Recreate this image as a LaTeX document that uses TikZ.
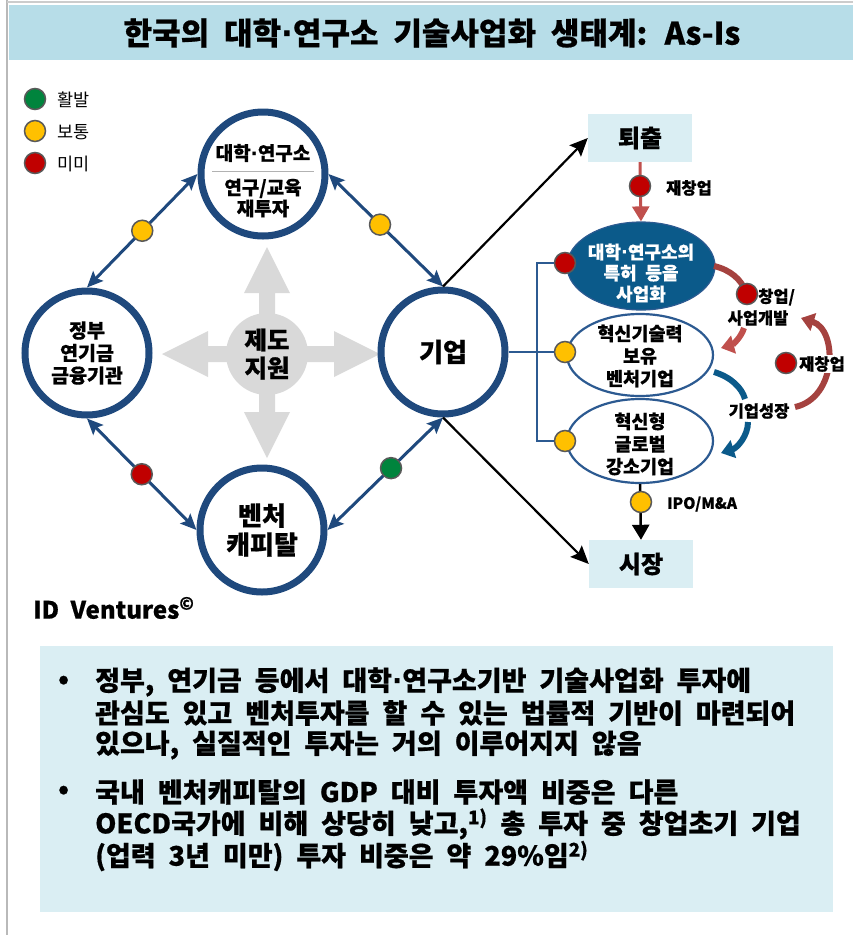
\documentclass[tikz,border=0pt]{standalone}
\usepackage{fontspec}
\setmainfont{Noto Sans CJK KR}[WordSpace=2.1,BoldFeatures={FakeBold=0.6}]
\newfontfamily\dvfont{DejaVu Sans}
\usetikzlibrary{arrows.meta,shapes.geometric,calc}
\definecolor{navy}{HTML}{1F497D}
\definecolor{band}{HTML}{B7DDE8}
\definecolor{pale}{HTML}{DAEEF3}
\definecolor{gcross}{HTML}{D9D9D9}
\definecolor{dgreen}{HTML}{00843D}
\definecolor{dyellow}{HTML}{FFC000}
\definecolor{dred}{HTML}{C00000}
\definecolor{dotb}{HTML}{595959}
\definecolor{rline}{HTML}{C0504D}
\definecolor{rdark}{HTML}{A5423F}
\definecolor{tealb}{HTML}{0B5A8A}
\definecolor{ebord}{HTML}{2C5A91}
\newcommand{\md}{{\dvfont\bfseries ·}}
\begin{document}
\begin{tikzpicture}[x=1pt,y=-1pt,
  bigc/.style={circle,draw=navy,line width=7pt,fill=white,minimum size=124pt,inner sep=0pt},
  lbl/.style={font=\bfseries\fontsize{19.5}{22}\selectfont,align=center,inner sep=0pt},
  big/.style={font=\bfseries\fontsize{25}{28}\selectfont,align=center,inner sep=0pt},
  small/.style={font=\bfseries\fontsize{16.5}{19}\selectfont,inner sep=0pt},
  sdot/.style={circle,draw=dotb,line width=1.5pt,fill=#1,minimum size=21pt,inner sep=0pt},
  conn/.style={draw=navy,line width=3pt,{Stealth[length=16pt,width=14pt,inset=3pt]}-{Stealth[length=16pt,width=14pt,inset=3pt]}},
  blk/.style={draw=black,line width=2.2pt,-{Stealth[length=18pt,width=16pt,inset=3pt]}},
  boxr/.style={rectangle,fill=pale,minimum width=104pt,minimum height=48pt,inner sep=0pt,font=\bfseries\fontsize{24}{28}\selectfont},
  ellw/.style={ellipse,draw=ebord,line width=2.2pt,fill=white,minimum width=146pt,minimum height=82pt,inner sep=0pt},
  etxt/.style={font=\bfseries\fontsize{18.5}{22.5}\selectfont,align=center,inner sep=0pt},
  rthick/.style={draw=rdark,line width=6pt},
  bthick/.style={draw=tealb,line width=6pt},
  bullet/.style={font=\bfseries\fontsize{27}{30}\selectfont,anchor=west,inner sep=0pt}
]
\useasboundingbox (0,0) rectangle (853,935);
% frame and title
\draw[gray!55,line width=1.5pt] (7,0) -- (7,935);
\draw[gray!40,line width=1.2pt] (7,2) -- (853,2);
\fill[band] (9,5) rectangle (853,60);
\node[font=\bfseries\fontsize{31}{34}\selectfont,inner sep=0pt] (title) at (432,33) {한국의 대학\md 연구소 기술사업화 생태계: As-Is};

% legend
\node[sdot=dgreen] (lg1) at (35,99) {};
\node[sdot=dyellow] (lg2) at (35,131) {};
\node[sdot=dred] (lg3) at (35,163) {};
\node[font=\fontsize{17.5}{20}\selectfont,anchor=west,inner sep=0pt] (lt1) at (57,100) {활발};
\node[font=\fontsize{17.5}{20}\selectfont,anchor=west,inner sep=0pt] (lt2) at (57,132) {보통};
\node[font=\fontsize{17.5}{20}\selectfont,anchor=west,inner sep=0pt] (lt3) at (57,164) {미미};

% central cross
\fill[gcross] (267,354) circle (41);
\fill[gcross] (259,354) -- (259,293) -- (244,293) -- (267,247) -- (290,293) -- (275,293) -- (275,354) -- cycle;
\fill[gcross] (259,354) -- (259,412) -- (244,412) -- (267,458) -- (290,412) -- (275,412) -- (275,354) -- cycle;
\fill[gcross] (267,346) -- (208,346) -- (208,331) -- (162,354) -- (208,377) -- (208,362) -- (267,362) -- cycle;
\fill[gcross] (267,346) -- (334,346) -- (334,331) -- (380,354) -- (334,377) -- (334,362) -- (267,362) -- cycle;
\node[big,font=\bfseries\fontsize{24.5}{28}\selectfont] (sup) at (267,354) {제도\\지원};

% big circles
\node[bigc] (uni) at (263,174) {};
\node[lbl,font=\bfseries\fontsize{19}{22}\selectfont] (unit) at (263,153) {대학\md 연구소};
\draw[gray!60,line width=1pt] (212,171) -- (314,171);
\node[lbl,font=\bfseries\fontsize{19}{21}\selectfont] (unib) at (263,198) {연구/교육\\재투자};
\node[bigc,lbl,font=\bfseries\fontsize{19.5}{22.5}\selectfont] (gov) at (87,353) {정부\\연기금\\금융기관};
\node[bigc,big,font=\bfseries\fontsize{26}{28}\selectfont] (biz) at (443,352) {기업};
\node[bigc,big,font=\bfseries\fontsize{26}{29}\selectfont] (vc) at (262,530) {벤처\\캐피탈};

% connectors among circles
\draw[conn] (gov.north) -- (uni.west);
\draw[conn] (uni.east) -- (biz.north);
\draw[conn] (gov.south) -- (vc.west);
\draw[conn] (vc.east) -- (biz.south);
\node[sdot=dyellow] (c1) at ($(gov.north)!0.5!(uni.west)$) {};
\node[sdot=dyellow] (c2) at ($(uni.east)!0.45!(biz.north)$) {};
\node[sdot=dred] (c3) at ($(gov.south)!0.5!(vc.west)$) {};
\node[sdot=dgreen] (c4) at ($(vc.east)!0.55!(biz.south)$) {};

% right side boxes
\node[boxr] (exit) at (640,138) {퇴출};
\node[boxr] (mkt) at (641,564) {시장};
\draw[blk] (biz.north) -- (exit.west);
\draw[blk] (biz.south) -- (mkt.west);

% ellipses
\node[ellipse,draw=ebord,line width=1.2pt,fill=tealb,minimum width=148pt,minimum height=88pt,inner sep=0pt] (e1) at (641,266) {};
\node[etxt,text=white,font=\bfseries\fontsize{18}{21}\selectfont] (e1t) at (641,273) {대학\md 연구소의\\특허 등을\\사업화};
\node[ellw] (e2) at (640,355) {};
\node[etxt] (e2t) at (640,356) {혁신기술력\\보유\\벤처기업};
\node[ellw,minimum height=84pt] (e3) at (640,441) {};
\node[etxt] (e3t) at (640,444) {혁신형\\글로벌\\강소기업};

% exit -> e1
\draw[draw=rline,line width=3pt,-{Triangle[length=15pt,width=17pt]}] (exit.south) -- (e1.north);
\node[sdot=dred] (rd1) at (640,186) {};
\node[small,anchor=west] (rl1) at (666,188) {재창업};

% e3 -> market
\draw[draw=black,line width=2.5pt,-{Triangle[length=15pt,width=17pt]}] (e3.south) -- (mkt.north);
\node[sdot=dyellow] (yd1) at (641,502) {};
\node[small,anchor=west,font=\bfseries\fontsize{15.5}{18}\selectfont] (ipo) at (667,504) {IPO/M\&A};

% bracket
\node[sdot=dred] (dA) at (565,263) {};
\node[sdot=dyellow] (dB) at (565,352) {};
\node[sdot=dyellow] (dC) at (565,441) {};
\draw[draw=ebord,line width=2.5pt] (biz.east) -- (dB);
\draw[draw=ebord,line width=2.5pt] (dA) -- ++(-28,0) |- (dC);

% curved arrows
\draw[rthick] (714,266) .. controls (731,270) and (741,280) .. (745,290);
\node[sdot=dred] (rd2) at (747,294) {};
\node[small,anchor=west] (rl2) at (758,297) {창업/};
\node[small] (rl3) at (758,318) {사업개발};
\draw[rthick,draw=rline,-{Triangle[length=13pt,width=18pt]}] (744,328) .. controls (741,338) and (732,345) .. (721,348);

\draw[bthick] (714,372) .. controls (731,377) and (742,388) .. (745,399);
\node[small] (grow) at (759,411) {기업성장};
\draw[bthick,-{Triangle[length=13pt,width=18pt]}] (748,422) .. controls (748,436) and (737,448) .. (721,453);

\draw[rthick,-{Triangle[length=13pt,width=18pt]}] (795,407) .. controls (837,398) and (838,330) .. (801,318);
\node[sdot=dred] (rd3) at (786,363) {};
\node[small,anchor=west,fill=white,inner sep=1pt] (rl4) at (798,364) {재창업};

% credit
\node[font=\bfseries\fontsize{24}{26}\selectfont,anchor=west,inner sep=0pt] (idv) at (33,608) {ID Ventures\textsuperscript{©}};

% bottom box
\fill[pale] (40,646) rectangle (833,912);
\node[bullet] (b1) at (58,682) {•};
\node[bullet] (t1) at (95,682) {정부, 연기금 등에서 대학\md 연구소기반 기술사업화 투자에};
\node[bullet] (t2) at (95,713) {관심도 있고 벤처투자를 할 수 있는 법률적 기반이 마련되어};
\node[bullet] (t3) at (95,745) {있으나, 실질적인 투자는 거의 이루어지지 않음};
\node[bullet] (b2) at (58,792) {•};
\node[bullet] (t4) at (95,792) {국내 벤처캐피탈의 GDP 대비 투자액 비중은 다른};
\node[bullet] (t5) at (95,824) {OECD국가에 비해 상당히 낮고,\textsuperscript{1)} 총 투자 중 창업초기 기업};
\node[bullet] (t6) at (95,856) {(업력 3년 미만) 투자 비중은 약 29\%임\textsuperscript{2)}};
\end{tikzpicture}
\end{document}
